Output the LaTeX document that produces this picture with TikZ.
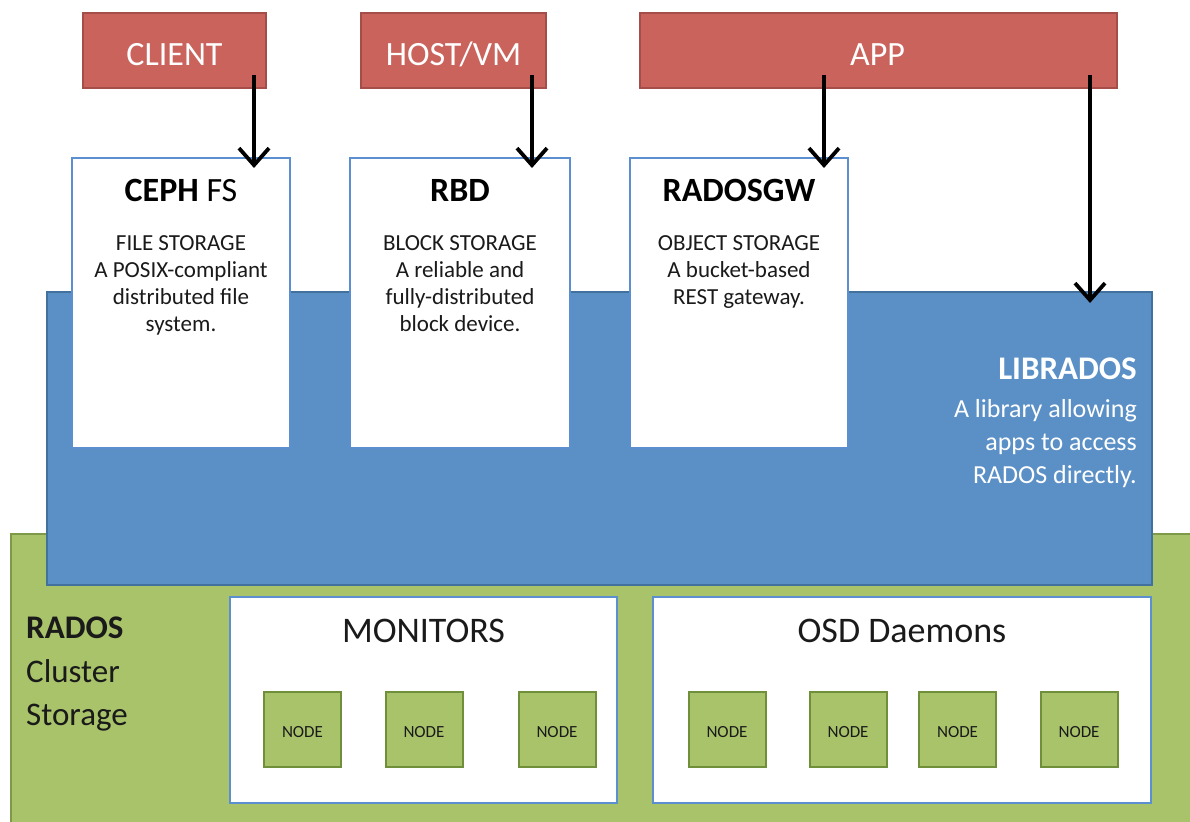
\documentclass[tikz,border=0pt]{standalone}
\usepackage{fontspec}
\setmainfont{Carlito}
\usetikzlibrary{arrows.meta}
\definecolor{redfill}{HTML}{CB635D}
\definecolor{redline}{HTML}{A54D48}
\definecolor{bluefill}{HTML}{5B90C7}
\definecolor{blueline}{HTML}{41719C}
\definecolor{boxline}{HTML}{5B8FD0}
\definecolor{greenfill}{HTML}{A8C36A}
\definecolor{greenline}{HTML}{7E9A48}
\definecolor{nodeline}{HTML}{6F8F3A}
\definecolor{txt}{HTML}{1A1A1A}
\begin{document}
\begin{tikzpicture}[x=1pt,y=-1pt,
  redbox/.style={draw=redline, fill=redfill, line width=2pt, inner sep=0pt, minimum height=75pt},
  whitebox/.style={draw=boxline, fill=white, line width=2.5pt, inner sep=0pt},
  nodebox/.style={draw=nodeline, fill=greenfill, line width=2pt, inner sep=0pt, minimum width=77pt, minimum height=75pt},
  redtxt/.style={text=white, font=\fontsize{34}{40}\selectfont, anchor=base, inner sep=0pt},
  titletxt/.style={text=black, font=\fontsize{34}{40}\selectfont, anchor=base, inner sep=0pt},
  desctxt/.style={text=txt, font=\fontsize{23}{27}\selectfont, anchor=base, inner sep=0pt},
  libtxt/.style={text=white, font=\fontsize{26}{33}\selectfont, anchor=base east, inner sep=0pt},
  bigtxt/.style={text=txt, font=\fontsize{36}{42}\selectfont, anchor=base, inner sep=0pt},
  radostxt/.style={text=txt, font=\fontsize{33}{40}\selectfont, anchor=base west, inner sep=0pt},
  nodetxt/.style={text=txt, font=\fontsize{17}{20}\selectfont, anchor=base, inner sep=0pt},
  arr/.style={line width=3.8pt, black, -{Straight Barb[length=17pt,width=30pt]}}
]
\useasboundingbox (0,0) rectangle (1190,821);
\fill[white] (0,0) rectangle (1190,821);
% RADOS cluster (green)
\node[draw=greenline, fill=greenfill, line width=2pt, inner sep=0pt, minimum width=1195pt, minimum height=300pt, anchor=north west] (rados) at (10,533) {};
% LIBRADOS (blue)
\node[draw=blueline, fill=bluefill, line width=2pt, inner sep=0pt, minimum width=1105pt, minimum height=293pt] (librados) at (599.5,438.5) {};
\node[libtxt, font=\fontsize{33}{40}\selectfont\bfseries] (libtitle) at (1137,379) {LIBRADOS};
\foreach \t [count=\k from 0] in {A library allowing, apps to access, RADOS directly.}
  \node[libtxt] (libdesc\k) at (1137,{417+33*\k}) {\t};
% upper white boxes
\node[whitebox, minimum width=218pt, minimum height=290pt] (cephfs) at (181,303) {};
\node[whitebox, minimum width=220pt, minimum height=290pt] (rbd) at (460,303) {};
\node[whitebox, minimum width=218pt, minimum height=290pt] (radosgw) at (739,303) {};
\node[titletxt] (cephfst) at (181,201) {\textbf{CEPH} FS};
\node[titletxt] (rbdt) at (460,201) {\textbf{RBD}};
\node[titletxt] (radosgwt) at (739,201) {\textbf{RADOSGW}};
\foreach \t [count=\k from 0] in {FILE STORAGE, A POSIX-compliant, distributed file, system.}
  \node[desctxt] (cephfsd\k) at (181,{250+27*\k}) {\t};
\foreach \t [count=\k from 0] in {BLOCK STORAGE, A reliable and, fully-distributed, block device.}
  \node[desctxt] (rbdd\k) at (460,{250+27*\k}) {\t};
\foreach \t [count=\k from 0] in {OBJECT STORAGE, A bucket-based, REST gateway.}
  \node[desctxt] (radosgwd\k) at (739,{250+27*\k}) {\t};
% RADOS label
\node[radostxt] (radoslbl1) at (26,638) {\textbf{RADOS}};
\node[radostxt] (radoslbl2) at (26,682) {Cluster};
\node[radostxt] (radoslbl3) at (26,725) {Storage};
% monitors and OSD
\node[whitebox, minimum width=387pt, minimum height=206pt] (monitors) at (423.5,700) {};
\node[whitebox, minimum width=498pt, minimum height=206pt] (osd) at (902,700) {};
\node[bigtxt] (monlbl) at (423.5,642) {MONITORS};
\node[bigtxt] (osdlbl) at (902,642) {OSD Daemons};
\foreach \i/\x in {1/302.5,2/424,3/557,4/727,5/848,6/957.5,7/1079}{
  \node[nodebox] (n\i) at (\x,729.5) {};
  \node[nodetxt] (n\i t) at (\x,737.5) {NODE};
}
% red boxes
\node[redbox, minimum width=183pt] (client) at (174.5,50.5) {};
\node[redbox, minimum width=185pt] (host) at (453.5,50.5) {};
\node[redbox, minimum width=477pt] (app) at (878.5,50.5) {};
\node[redtxt] (clientt) at (174.5,66) {CLIENT};
\node[redtxt] (hostt) at (453.5,66) {HOST/VM};
\node[redtxt] (appt) at (877.5,66) {APP};
% arrows
\coordinate (a1s) at (254,75);  \coordinate (a1e) at (254,168);
\coordinate (a2s) at (532,75);  \coordinate (a2e) at (532,168);
\coordinate (a3s) at (824,75);  \coordinate (a3e) at (824,168);
\coordinate (a4s) at (1090,75); \coordinate (a4e) at (1090,303);
\draw[arr] (a1s) -- (a1e);
\draw[arr] (a2s) -- (a2e);
\draw[arr] (a3s) -- (a3e);
\draw[arr] (a4s) -- (a4e);
\end{tikzpicture}
\end{document}
